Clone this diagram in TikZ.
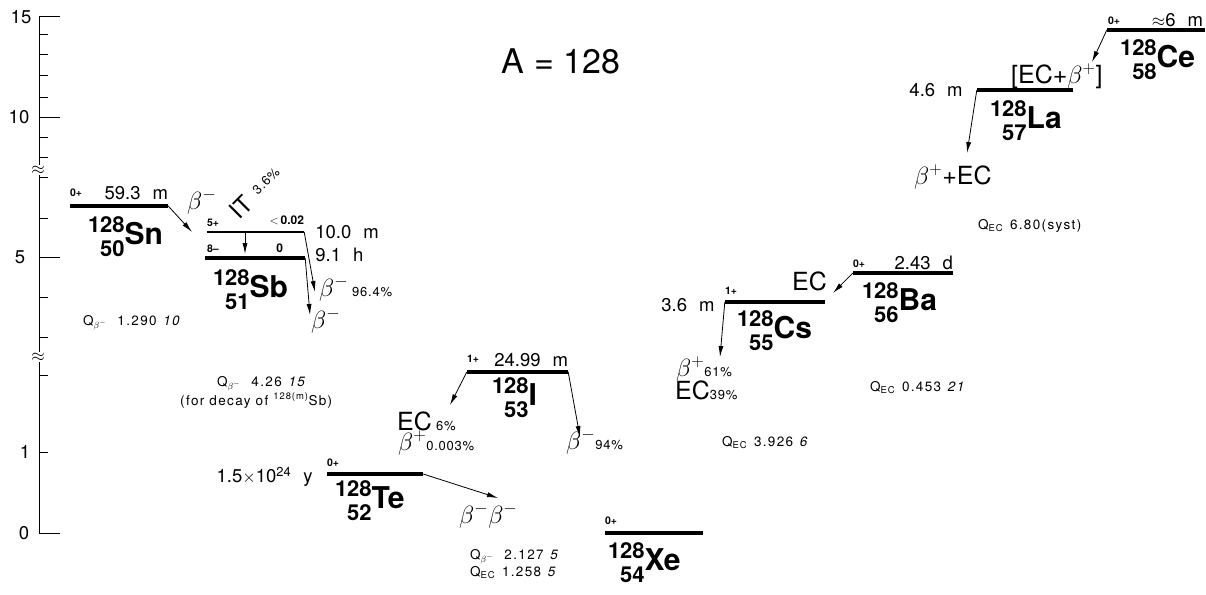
\documentclass[tikz,border=0pt]{standalone}
\usepackage{fontspec}
\setmainfont{TeX Gyre Heros}
\usetikzlibrary{arrows.meta,positioning}
\newcommand{\nucl}[3]{{\def\arraystretch{1}\bfseries\fontsize{22}{24}\selectfont
\begin{tabular}[b]{@{}r@{}}#1\\#2\end{tabular}\raisebox{11.5pt}{\fontsize{30}{30}\selectfont #3}}}
\newcommand{\pct}[1]{{\fontsize{13}{13}\selectfont\addfontfeatures{LetterSpace=6}#1}}

\begin{document}
\begin{tikzpicture}[x=1pt,y=-1pt,
lev/.style={fill=black,inner sep=0pt,minimum height=3.2pt},
mlev/.style={fill=black,inner sep=0pt,minimum height=1.4pt},
arr/.style={-{Latex[length=11pt,width=5pt]},line width=0.8pt},
spin/.style={inner sep=0pt,font=\fontsize{10.5}{10.5}\selectfont\bfseries},
hl/.style={inner sep=0pt,font=\fontsize{18.5}{18.5}\selectfont},
mode/.style={inner sep=0pt,font=\fontsize{25}{25}\selectfont,anchor=base west},
qv/.style={inner sep=0pt,font=\fontsize{13.5}{13.5}\selectfont\addfontfeatures{LetterSpace=10},anchor=base west},
nuc/.style={inner sep=0pt}]
\useasboundingbox (0,0) rectangle (1206,594);
% energy axis
\draw[line width=1pt] (39,17) -- (39,533);
\foreach \t in {17,117,257,533} \draw[line width=1pt] (39,\t) -- (60,\t);
\foreach \t in {35,55,75,97,137,157,177,218,297,337,375,452} \draw[line width=1pt] (39,\t) -- (48,\t);
\foreach \v/\t/\xx in {15/17/21,10/117/19,5/257/20,1/452/25,0/533/24}
  \node[hl] (ax\v) at (\xx,\t) {\v};
\node[fill=white,inner sep=0.5pt,font=\fontsize{18}{18}\selectfont] (brka) at (38,170) {$\approx$};
\node[fill=white,inner sep=0.5pt,font=\fontsize{18}{18}\selectfont] (brkb) at (38,357) {$\approx$};
\node[inner sep=0pt,font=\fontsize{34}{34}\selectfont] (title) at (561,61) {A = 128};
% levels
\node[lev,minimum width=98pt] (sn) at (119,206) {};
\node[mlev,minimum width=97pt] (sbm) at (255.5,232) {};
\node[lev,minimum width=100pt] (sbg) at (255,258) {};
\node[lev,minimum width=96pt] (te) at (375,474) {};
\node[lev,minimum width=98pt] (xe) at (654,533) {};
\node[lev,minimum width=101pt] (iod) at (517.5,372) {};
\node[lev,minimum width=100pt] (cs) at (775,302) {};
\node[lev,minimum width=100pt] (ba) at (903,273) {};
\node[lev,minimum width=96pt] (la) at (1025,90) {};
\node[lev,minimum width=98pt] (ce) at (1156,30) {};
% nuclides
\node[nuc,below right=9pt and 18pt of sn.west] (snlab) {\nucl{128}{50}{Sn}};
\node[nuc,below right=10pt and 8pt of sbg.west] (sblab) {\nucl{128}{51}{Sb}};
\node[nuc,below right=5pt and 8pt of te.west] (telab) {\nucl{128}{52}{Te}};
\node[nuc,below right=8pt and 3pt of xe.west] (xelab) {\nucl{128}{54}{Xe}};
\node[nuc,below right=4pt and 25pt of iod.west] (iodlab) {\nucl{128}{53}{I}};
\node[nuc,below right=7pt and 12pt of cs.west] (cslab) {\nucl{128}{55}{Cs}};
\node[nuc,below right=8pt and 9pt of ba.west] (balab) {\nucl{128}{56}{Ba}};
\node[nuc,below right=9pt and 13pt of la.west] (lalab) {\nucl{128}{57}{La}};
\node[nuc,below right=8pt and 13pt of ce.west] (celab) {\nucl{128}{58}{Ce}};
% spins
\node[spin,above right=9pt and 0pt of sn.west] (snsp) {0+};
\node[spin,above right=5pt and 0pt of sbm.west] (sbmsp) {5+};
\node[spin,above right=5pt and 2pt of sbg.west] (sbgsp) {8--};
\node[spin,above right=7pt and 0pt of te.west] (tesp) {0+};
\node[spin,above right=8pt and 0pt of xe.west] (xesp) {0+};
\node[spin,above right=9pt and 0pt of iod.west] (iodsp) {1+};
\node[spin,above right=7pt and 0pt of cs.west] (cssp) {1+};
\node[spin,above right=5pt and 0pt of ba.west] (basp) {0+};
\node[spin,above right=5pt and 1pt of ce.west] (cesp) {0+};
% half-lives
\node[hl,above left=6pt and 0pt of sn.east] (snhl) {59.3\hspace{.65em}m};
\node[hl,above left=5pt and 0pt of iod.east] (iodhl) {24.99\hspace{.65em}m};
\node[hl,above left=3pt and 0pt of ba.east] (bahl) {2.43\hspace{.65em}d};
\node[hl,above left=3pt and 2pt of ce.east] (cehl) {$\approx$6\hspace{.65em}m};
\node[hl,right=11pt of sbm.east] (sbmhl) {10.0\hspace{.65em}m};
\node[hl,right=10pt of sbg.east,yshift=3pt] (sbghl) {9.1\hspace{.65em}h};
\node[hl,left=14pt of te.west,yshift=-3pt] (tehl) {1.5$\times$10\textsuperscript{24}\hspace{.65em}y};
\node[hl,left=10pt of cs.west,yshift=-3pt] (cshl) {3.6\hspace{.65em}m};
\node[hl,left=14pt of la.west] (lahl) {4.6\hspace{.65em}m};
% Sb isomer
\node[spin,font=\fontsize{12}{12}\selectfont\bfseries,above left=7pt and 0pt of sbm.east] (sblim) {$<$\,0.02};
\node[spin,font=\fontsize{12}{12}\selectfont\bfseries,above left=5pt and 22pt of sbg.east] (sbzero) {0};
\coordinate (itA) at (245,232);
\coordinate (itB) at (245,254);
\draw[arr] (itA) -- (itB);
\node[rotate=45,inner sep=0pt,font=\fontsize{24}{24}\selectfont] (itlab) at (241,207) {IT};
\node[rotate=45,inner sep=0pt] (itpct) at (266,181) {\pct{3.6\%}};
% decays
\coordinate (snT) at (192,232);
\coordinate (sbmT) at (315,292);
\coordinate (sbgT) at (310,315);
\coordinate (teT) at (498,498);
\coordinate (ioL) at (450,405);
\coordinate (ioR) at (580,437);
\coordinate (csT) at (720,357);
\coordinate (baT) at (833,293);
\coordinate (laT) at (967,153);
\coordinate (ceT) at (1092,62);
\draw[arr] (sn.east) -- (snT);
\draw[arr] (sbm.east) -- (sbmT);
\draw[arr] (sbg.east) -- (sbgT);
\draw[arr] (te.east) -- (teT);
\draw[arr] (iod.west) -- (ioL);
\draw[arr] (iod.east) -- (ioR);
\draw[arr] (cs.west) -- (csT);
\draw[arr] (ba.west) -- (baT);
\draw[arr] (la.west) -- (laT);
\draw[arr] (ce.west) -- (ceT);
% decay modes
\node[mode,font=\fontsize{23}{23}\selectfont] (snmode) at (187,209) {$\beta^-$};
\node[mode,font=\fontsize{23}{23}\selectfont] (sbmmode) at (319,296) {$\beta^-$\,\pct{96.4\%}};
\node[mode,font=\fontsize{23}{23}\selectfont] (sbgmode) at (311,328) {$\beta^-$};
\node[mode] (iodec) at (397,430) {EC\,\pct{6\%}};
\node[mode] (iodbp) at (398,450) {$\beta^+$\pct{0.003\%}};
\node[mode] (iodbm) at (566,449) {$\beta^-$\pct{94\%}};
\node[mode] (tebb) at (459,523) {$\beta^-\beta^-$};
\node[mode] (csbp) at (676,376) {$\beta^+$\pct{61\%}};
\node[mode] (csec) at (675,399) {EC\pct{39\%}};
\node[mode,anchor=base east] (baec) at (827,290) {EC};
\node[mode] (labp) at (914,184) {$\beta^+$+EC};
\node[mode] (cebp) at (1011,83) {[EC+$\beta^+$]};
% Q values
\node[qv] (qsn) at (83,325) {Q\textsubscript{$\beta^-$}\hspace{.8em}1.290\hspace{.5em}\textit{10}};
\node[qv] (qsb) at (217,386) {Q\textsubscript{$\beta^-$}\hspace{.8em}4.26\hspace{.5em}\textit{15}};
\node[qv] (qsbn) at (180,405) {(for decay of \textsuperscript{128(m)}Sb)};
\node[qv] (qtem) at (470,559) {Q\textsubscript{$\beta^-$}\hspace{.8em}2.127\hspace{.5em}\textit{5}};
\node[qv] (qtep) at (470,576) {Q\textsubscript{EC}\hspace{.5em}1.258\hspace{.5em}\textit{5}};
\node[qv] (qcs) at (722,446) {Q\textsubscript{EC}\hspace{.5em}3.926\hspace{.5em}\textit{6}};
\node[qv] (qba) at (870,391) {Q\textsubscript{EC}\hspace{.5em}0.453\hspace{.5em}\textit{21}};
\node[qv] (qla) at (978,229) {Q\textsubscript{EC}\hspace{.5em}6.80(syst)};
\end{tikzpicture}
\end{document}
